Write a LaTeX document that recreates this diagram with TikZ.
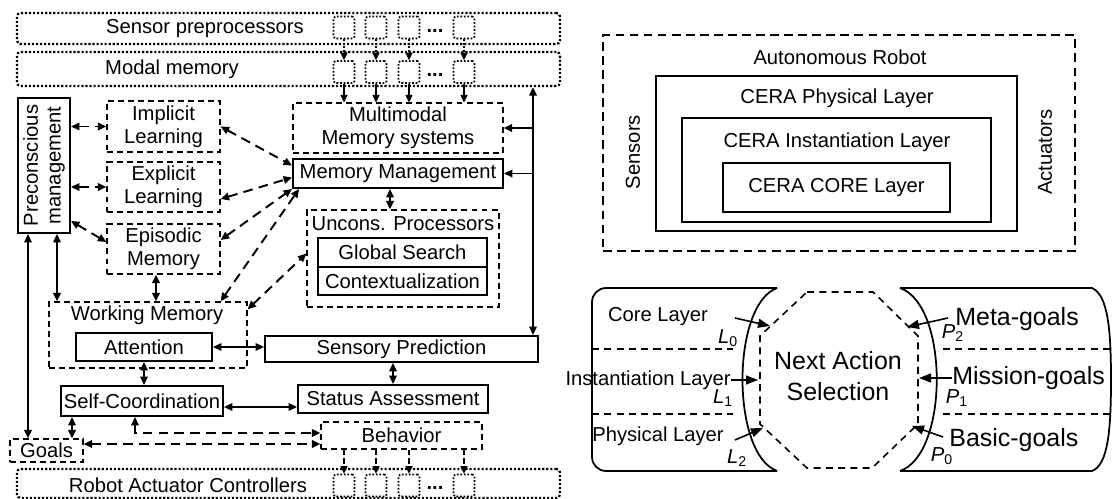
\documentclass[tikz,border=0pt]{standalone}
\usepackage{fontspec}
\setmainfont{Liberation Sans}
\usetikzlibrary{arrows.meta}
\tikzset{
  solidbox/.style={rectangle, draw, line width=1.1pt, inner sep=1pt, align=center},
  dashbox/.style={rectangle, draw, line width=0.7pt, dash pattern=on 3.4pt off 2.3pt, inner sep=1pt, align=center},
  dotbox/.style={rectangle, draw, line width=1.3pt, dash pattern=on 1.2pt off 1.1pt, rounded corners=2pt, inner sep=0pt},
  tinybox/.style={rectangle, draw, line width=0.9pt, dash pattern=on 1pt off 1pt, rounded corners=1pt,
    minimum width=0.42cm, minimum height=0.44cm, inner sep=0pt},
  arrowstyle/.style={>={Triangle[length=1.7mm,width=1.5mm]}, line width=1.1pt},
  dasharrow/.style={arrowstyle, dash pattern=on 5.5pt off 3.5pt},
  thinarrow/.style={>={Triangle[length=1.5mm,width=1.4mm]}, line width=0.7pt},
  dotarrow/.style={thinarrow, dash pattern=on 1pt off 1pt},
  dashlink/.style={thinarrow, line width=0.9pt, dash pattern=on 3pt off 2pt},
  pointer/.style={-{Triangle[length=2.4mm,width=1.8mm]}, line width=0.9pt}
}
\newcommand{\bigtxt}{\fontsize{14.2}{18}\selectfont}

\begin{document}
\begin{tikzpicture}[x=0.02cm, y=-0.02cm, font=\fontsize{11.5}{13}\selectfont]
  \useasboundingbox (0,0) rectangle (1113,499);
  % sensor and actuator rows
  \node[dotbox, minimum width=10.86cm, minimum height=0.62cm] (sensor) at (288.5,28.5) {};
  \node at (205,28.5) {Sensor preprocessors};
  \node[dotbox, minimum width=10.86cm, minimum height=0.68cm] (modal) at (288.5,69) {};
  \node at (172,69) {Modal memory};
  \node[dotbox, minimum width=10.86cm, minimum height=0.58cm] (actctrl) at (288.5,483.5) {};
  \node at (188,485) {Robot Actuator Controllers};
  \foreach \i/\x in {1/344,2/376,3/409,4/464} {
    \node[tinybox] (s\i) at (\x,27.5) {};
    \node[tinybox] (m\i) at (\x,72) {};
    \node[tinybox] (a\i) at (\x,485.5) {};
  }
  \node[anchor=base] at (435,33) {\textbf{...}};
  \node[anchor=base] at (435,77) {\textbf{...}};
  \node[anchor=base] at (435,490) {\textbf{...}};
  % memory side
  \node[dashbox, minimum width=4.2cm, minimum height=1cm] (multi) at (398,128) {Multimodal\\Memory systems};
  \node[solidbox, minimum width=4.2cm, minimum height=0.58cm] (memmgmt) at (398,173.5) {Memory Management};
  \node[dashbox, minimum width=3.84cm, minimum height=1.94cm] (uncons) at (403,258.5) {};
  \node at (403,224) {Uncons. Processors};
  \node[solidbox, minimum width=3.38cm, minimum height=0.58cm] (search) at (402.5,252.5) {Global Search};
  \node[solidbox, minimum width=3.38cm, minimum height=0.56cm] (context) at (402.5,281) {Contextualization};
  \node[solidbox, minimum width=5.46cm, minimum height=0.52cm] (sensory) at (401.5,349) {Sensory Prediction};
  \node[solidbox, minimum width=3.8cm, minimum height=0.56cm] (status) at (393,399) {Status Assessment};
  \node[dashbox, minimum width=3.22cm, minimum height=0.54cm] (behavior) at (401.5,435.5) {Behavior};
  % learning side
  \node[solidbox, minimum width=1.04cm, minimum height=2.7cm] (precon) at (44,165.5) {};
  \node[rotate=90, align=center] at (precon) {Preconscious\\management};
  \node[dashbox, minimum width=2.26cm, minimum height=1.02cm] (implicit) at (163.5,126.5) {Implicit\\Learning};
  \node[dashbox, minimum width=2.26cm, minimum height=1cm] (explicit) at (163.5,187) {Explicit\\Learning};
  \node[dashbox, minimum width=2.26cm, minimum height=1cm] (episodic) at (163.5,249) {Episodic\\Memory};
  \node[dashbox, minimum width=3.96cm, minimum height=1.32cm] (wm) at (148,335) {};
  \node at (147,315) {Working Memory};
  \node[solidbox, minimum width=2.72cm, minimum height=0.56cm] (attention) at (144,347) {Attention};
  \node[solidbox, inner sep=0pt, minimum width=3.24cm, minimum height=0.6cm] (selfcoord) at (142,401) {Self-Coordination};
  \node[dashbox, minimum width=1.46cm, minimum height=0.46cm] (goals) at (46.5,450.5) {Goals};

  \foreach \i in {1,...,4} {
    \draw[dotarrow, ->] (s\i) -- (m\i);
    \draw[thinarrow, ->] (m\i.south) -- (m\i.south |- multi.north);
    \draw[dashlink, ->] (behavior.south -| a\i) -- (a\i.north);
  }
  \coordinate (bus) at (533,250);
  \draw[arrowstyle, <->] (bus |- modal.south) -- (bus |- sensory.north);
  \draw[arrowstyle, ->] (bus |- multi.east) -- (multi.east);
  \draw[arrowstyle, ->] (bus |- memmgmt.east) -- (memmgmt.east);
  \draw[arrowstyle, <->] ([xshift=-0.16cm]memmgmt.south) -- ([xshift=-0.16cm]memmgmt.south |- uncons.north);
  \draw[dasharrow, <->] (precon.east |- implicit.west) -- (implicit.west);
  \draw[dasharrow, <->] (precon.east |- explicit.west) -- (explicit.west);
  \draw[dasharrow, <->] ([yshift=0.26cm]precon.south east) -- ([yshift=0.14cm]episodic.west);
  \draw[dasharrow, <->] (implicit.east) -- ([yshift=0.16cm]memmgmt.west);
  \draw[dasharrow, <->] ([yshift=-0.24cm]explicit.east) -- ([yshift=-0.08cm]memmgmt.west);
  \draw[dasharrow, <->] ([yshift=0.18cm]episodic.east) -- (memmgmt.south west);
  \draw[dasharrow, <->] (episodic.east |- wm.north) -- ([xshift=0.14cm]memmgmt.south west);
  \draw[dasharrow, <->] ([yshift=-0.16cm]wm.north east) -- ([yshift=0.1cm]uncons.west);
  \draw[arrowstyle, <->] ([xshift=-0.15cm]episodic.south) -- ([xshift=-0.15cm]episodic.south |- wm.north);
  \draw[arrowstyle, <->] ([xshift=0.26cm]precon.south) -- ([xshift=0.26cm]precon.south |- wm.north);
  \draw[arrowstyle, <->] ([xshift=-0.32cm]precon.south) -- ([xshift=-0.32cm]precon.south |- goals.north);
  \draw[arrowstyle, <->] (attention.east) -- (attention.east -| sensory.west);
  \draw[arrowstyle, <->] (attention.south) -- (attention.south |- selfcoord.north);
  \draw[arrowstyle, <->] (status.north) -- (status.north |- sensory.south);
  \draw[arrowstyle, <->] ([yshift=-0.12cm]selfcoord.east) -- ([yshift=-0.12cm]selfcoord.east -| status.west);
  \draw[arrowstyle, <->] ([xshift=-1.4cm]selfcoord.south) -- ([xshift=-1.4cm]selfcoord.south |- goals.north);
  \draw[dasharrow, <->] ([xshift=-0.14cm]selfcoord.south) |- ([yshift=0.05cm]behavior.west);
  \draw[dasharrow, <->] ([yshift=0.13cm]goals.east) -- ([yshift=0.13cm]goals.east -| behavior.west);

  % layers of the robot
  \node[rectangle, draw, line width=1pt, dash pattern=on 5pt off 3pt, minimum width=9.44cm, minimum height=4.32cm] (robot) at (839,143) {};
  \node[solidbox, minimum width=7.22cm, minimum height=3.1cm] (phys) at (836.5,153.5) {};
  \node[solidbox, minimum width=6.18cm, minimum height=2.08cm] (inst) at (836.5,170) {};
  \node[solidbox, minimum width=4.54cm, minimum height=0.98cm] (core) at (836.5,187.5) {CERA CORE Layer};
  \node at (840,57) {Autonomous Robot};
  \node at (837,98) {CERA Physical Layer};
  \node at (837,142) {CERA Instantiation Layer};
  \node[rotate=90] at (633,152) {Sensors};
  \node[rotate=90] at (1045,152) {Actuators};

  % next action selection
  \draw[line width=1pt, rounded corners=8pt] (777,471) -- (592,471) -- (592,288) -- (777,288);
  \draw[line width=1pt] (777,288) .. controls (731,305) and (731,454) .. (777,471);
  \draw[line width=1pt] (900,288) .. controls (949,305) and (949,454) .. (900,471);
  \draw[line width=1pt] (900,288) -- (1092,288) .. controls (1108,295) and (1111,330) .. (1111,380)
    .. controls (1111,430) and (1108,465) .. (1092,471) -- (900,471);
  \foreach \y in {349,414} {
    \draw[line width=0.8pt, dash pattern=on 4pt off 3pt] (592,\y) -- (733,\y);
    \draw[line width=0.8pt, dash pattern=on 4pt off 3pt] (943,\y) -- (1111,\y);
  }
  \draw[line width=0.9pt, dash pattern=on 4pt off 3pt] (807,292) -- (873,292) -- (918,336) -- (918,424)
    -- (872,468) -- (807,468) -- (760,424) -- (760,336) -- cycle;
  \node[align=center, font=\bigtxt] (nas) at (838,376) {Next Action\\Selection};
  \node (corelbl) at (658,317) {Core Layer};
  \node[anchor=east, inner sep=0pt] (instlbl) at (731,380) {Instantiation Layer};
  \node (physlbl) at (658,436) {Physical Layer};
  \node[anchor=west, inner sep=0pt, font=\bigtxt] (metalbl) at (955,319) {Meta-goals};
  \node[anchor=west, inner sep=0pt, font=\bigtxt] (missionlbl) at (952,378) {Mission-goals};
  \node[anchor=west, inner sep=0pt, font=\bigtxt] (basiclbl) at (949,440) {Basic-goals};
  \node (l0) at (728,338) {\textit{L}\textsubscript{0}};
  \node (l1) at (723,398) {\textit{L}\textsubscript{1}};
  \node (l2) at (737,458) {\textit{L}\textsubscript{2}};
  \node (p2) at (953,333) {\textit{P}\textsubscript{2}};
  \node (p1) at (957,398) {\textit{P}\textsubscript{1}};
  \node (p0) at (942,456) {\textit{P}\textsubscript{0}};
  \coordinate (l0tip) at (770,326);
  \coordinate (l2tip) at (763,428);
  \coordinate (p2tip) at (907,327);
  \coordinate (p0tip) at (912,426);
  \draw[pointer] (735,318) -- (l0tip);
  \draw[pointer] (instlbl.east) -- (instlbl.east -| 758,0);
  \draw[pointer] (735,440) -- (l2tip);
  \draw[pointer] (948,318) -- (p2tip);
  \draw[pointer] (missionlbl.west) -- (missionlbl.west -| 919,0);
  \draw[pointer] (943,437) -- (p0tip);
\end{tikzpicture}
\end{document}
